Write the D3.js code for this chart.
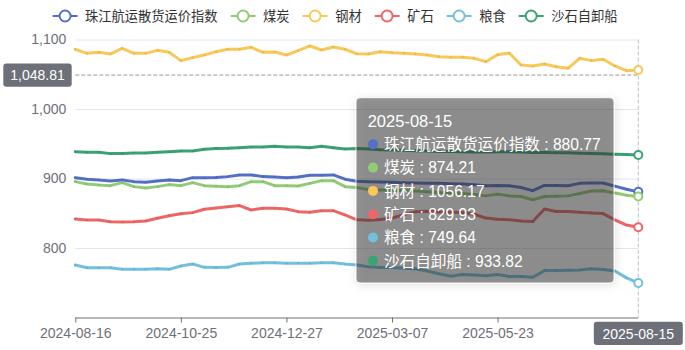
<!DOCTYPE html>
<html><head><meta charset="utf-8">
<script src="https://cdn.jsdelivr.net/npm/d3@7"></script>
<style>
html,body{margin:0;padding:0;background:#fff;}
svg{display:block;font-family:"Liberation Sans","Noto Sans CJK SC",sans-serif;}
</style></head><body>
<svg id="chart" width="685" height="350"></svg>
<script>
const dates = ["2024-08-16","2024-08-23","2024-08-30","2024-09-06","2024-09-13","2024-09-20","2024-09-27","2024-10-11","2024-10-18","2024-10-25",
"2024-11-01","2024-11-08","2024-11-15","2024-11-22","2024-11-29","2024-12-06","2024-12-13","2024-12-20","2024-12-27",
"2025-01-03","2025-01-10","2025-01-17","2025-01-24","2025-02-07","2025-02-14","2025-02-21","2025-02-28","2025-03-07",
"2025-03-14","2025-03-21","2025-03-28","2025-04-11","2025-04-18","2025-04-25","2025-05-09","2025-05-16","2025-05-23",
"2025-05-30","2025-06-06","2025-06-13","2025-06-20","2025-06-27","2025-07-04","2025-07-11","2025-07-18","2025-07-25","2025-08-01","2025-08-08","2025-08-15"];
const seriesNames = ["珠江航运散货运价指数","煤炭","钢材","矿石","粮食","沙石自卸船"];
const indexValues = [901.2,898.8,897.9,896.4,897.9,895.5,894.5,896.4,897.9,896.9,901.2,901.2,901.5,902.7,905.1,905.1,902.7,902.2,901.2,902.2,904.6,904.6,905.1,899.0,896.0,895.5,895.0,894.5,894.0,893.5,893.0,893.0,892.5,892.0,891.0,889.5,890.0,889.5,887.0,882.5,890.0,890.0,889.5,893.0,893.5,893.5,889.0,884.5,880.77];
const coalValues = [895.5,892.1,890.7,889.7,894.0,888.3,886.4,888.3,891.2,889.7,894.0,889.7,889.0,888.3,889.7,895.5,895.5,889.7,889.7,889.2,893.0,896.9,896.9,888.3,887.0,884.0,883.5,883.0,882.5,882.0,881.0,880.0,879.5,878.5,877.0,875.0,877.5,875.0,874.0,869.5,874.0,874.5,875.0,878.5,882.0,882.5,879.0,876.0,874.21];
const steelValues = [1085.9,1080.1,1081.6,1079.2,1087.3,1080.1,1080.1,1084.4,1081.6,1069.6,1073.9,1077.7,1082.5,1085.9,1085.9,1088.7,1081.6,1082.0,1077.7,1084.0,1090.7,1084.9,1089.2,1085.9,1079.5,1079.2,1082.5,1081.1,1080.1,1079.2,1077.7,1075.3,1074.4,1074.4,1072.9,1068.1,1078.0,1080.5,1063.3,1061.9,1064.8,1060.9,1058.5,1072.9,1069.6,1071.5,1061.9,1055.2,1056.17];
const oreValues = [841.8,840.3,840.3,837.9,837.4,837.9,838.9,842.7,846.5,849.4,850.9,855.7,857.5,859.5,861.0,854.7,857.1,857.1,856.2,852.3,851.3,853.7,853.7,847.5,840.5,840.0,841.0,843.0,848.0,852.0,853.0,852.0,851.5,851.0,848.5,843.0,841.5,840.5,839.0,838.0,856.0,852.5,852.5,851.5,850.5,849.5,840.5,833.0,829.93];
const grainValues = [775.6,771.7,771.7,771.7,769.3,769.3,769.3,770.3,769.3,774.1,777.0,772.2,772.0,772.2,777.0,778.0,778.9,778.9,778.0,778.0,778.0,778.9,778.9,777.0,775.5,773.0,772.0,772.0,771.0,770.0,767.0,763.0,759.5,762.0,761.0,760.0,762.0,759.0,759.0,758.0,767.5,767.5,768.0,768.5,770.0,769.0,767.0,757.0,749.64];
const sandValues = [938.6,937.7,937.7,935.8,935.8,936.7,936.7,937.7,938.6,939.6,939.6,942.0,943.0,943.4,944.4,945.3,945.3,946.3,945.3,945.3,944.4,946.3,944.4,942.5,943.0,942.5,941.5,941.0,940.5,940.0,939.5,939.0,939.0,938.5,938.0,938.0,938.5,938.5,938.0,937.5,937.5,937.0,937.0,936.5,936.0,935.5,935.0,934.5,933.82];
const colors = ["#5470c6","#91cc75","#fac858","#ee6666","#73c0de","#3ba272"];
const yTicks = [800,900,1000,1100];
const xLabelIdx = [0,9,18,27,36];
const pointerValue = 1048.81;
const pointerIndex = 48;

const allValues = [indexValues,coalValues,steelValues,oreValues,grainValues,sandValues];
const series = seriesNames.map((n,i)=>({name:n,color:colors[i],values:allValues[i]}));

const svg = d3.select("#chart");
const L=75.3, R=638.3, T=39.5, B=317.5;
const x = d3.scalePoint().domain(dates).range([L,R]);
const y = d3.scaleLinear().domain([700,1100]).range([B,T]);
const axisCol = "#6e7079";

const defs = svg.append("defs");
const f = defs.append("filter").attr("id","shadow").attr("x","-20%").attr("y","-20%").attr("width","140%").attr("height","140%");
f.append("feDropShadow").attr("dx",1).attr("dy",2).attr("stdDeviation",5).attr("flood-color","#000").attr("flood-opacity",0.2);

// grid lines + y labels
const gy = svg.append("g").attr("transform",`translate(${L},0)`)
  .call(d3.axisLeft(y).tickValues(yTicks).tickSize(-(R-L)).tickPadding(9).tickFormat(d3.format(",")));
gy.select(".domain").remove();
gy.selectAll(".tick line").attr("stroke","#e0e6f1");
gy.selectAll(".tick text").attr("fill",axisCol).style("font-size","14px").attr("font-family",null);

// x axis
const gx = svg.append("g").attr("transform",`translate(0,${B})`)
  .call(d3.axisBottom(x).tickValues(xLabelIdx.map(i=>dates[i])).tickSize(5).tickPadding(6));
gx.select(".domain").attr("stroke",axisCol).attr("d",`M${L},0.5H${R}`);
gx.selectAll(".tick line").attr("stroke",axisCol);
gx.selectAll(".tick text").attr("fill",axisCol).style("font-size","14px").attr("font-family",null);

// axis pointer lines
const px = x(dates[pointerIndex]);
svg.append("line").attr("x1",L).attr("x2",R).attr("y1",y(pointerValue)).attr("y2",y(pointerValue))
  .attr("stroke","#999").attr("stroke-dasharray","4,2");
svg.append("line").attr("x1",px).attr("x2",px).attr("y1",T).attr("y2",B)
  .attr("stroke","#b9bec9").attr("stroke-dasharray","4,2");

// series lines
const line = d3.line().x((d,i)=>x(dates[i])).y(d=>y(d));
const sg = svg.append("g");
series.forEach(s=>{
  sg.append("path").attr("d",line(s.values)).attr("fill","none").attr("stroke",s.color)
    .attr("stroke-width",3).attr("stroke-linejoin","round").attr("stroke-linecap","round");
  sg.append("g").selectAll("circle").data(s.values.slice(0,-1)).join("circle")
    .attr("cx",(d,i)=>x(dates[i])).attr("cy",d=>y(d)).attr("r",1.1)
    .attr("fill",d3.color(s.color).darker(0.6)).attr("opacity",0.45);
});
series.forEach(s=>{
  sg.append("circle").attr("cx",px).attr("cy",y(s.values[pointerIndex])).attr("r",4)
    .attr("fill","#fff").attr("stroke",s.color).attr("stroke-width",2);
});

// axis pointer labels
const yl = svg.append("g");
yl.append("rect").attr("x",3.3).attr("y",y(pointerValue)-11.7).attr("width",68.4).attr("height",23.4).attr("rx",3).attr("fill","#6e7079");
yl.append("text").attr("x",37.5).attr("y",y(pointerValue)+5).attr("text-anchor","middle").attr("fill","#fff").style("font-size","14px")
  .text(d3.format(",.2f")(pointerValue));
const xl = svg.append("g");
xl.append("rect").attr("x",px-44.5).attr("y",B+4.2).attr("width",89).attr("height",23.4).attr("rx",3).attr("fill","#6e7079");
xl.append("text").attr("x",px).attr("y",B+21).attr("text-anchor","middle").attr("fill","#fff").style("font-size","14px")
  .text(dates[pointerIndex]);

// legend
const lg = svg.append("g").attr("transform","translate(0,16)");
let cx = 52.6;
series.forEach(s=>{
  const it = lg.append("g").attr("transform",`translate(${cx},0)`);
  it.append("line").attr("x1",0).attr("x2",25).attr("y1",0).attr("y2",0).attr("stroke",s.color).attr("stroke-width",2);
  it.append("circle").attr("cx",12.5).attr("cy",0).attr("r",5.5).attr("fill","#fff").attr("stroke",s.color).attr("stroke-width",2);
  const t = it.append("text").attr("x",32.5).attr("y",4.6).attr("fill","#333").style("font-size","13.25px").text(s.name);
  cx += 32.5 + t.node().getComputedTextLength() + 13;
});

// tooltip
const tt = svg.append("g");
tt.append("rect").attr("x",356).attr("y",97.7).attr("width",258).attr("height",185.3).attr("rx",4)
  .attr("fill","rgba(50,50,50,0.5)").attr("stroke","rgba(255,255,255,0.85)").attr("filter","url(#shadow)");
tt.append("text").attr("x",367.7).attr("y",127).attr("fill","#fff").style("font-size","16.5px").text(dates[pointerIndex]);
series.forEach((s,i)=>{
  const cy = 144.3 + i*23.3;
  tt.append("circle").attr("cx",373).attr("cy",cy).attr("r",5).attr("fill",s.color);
  tt.append("text").attr("x",384).attr("y",cy+5.8).attr("fill","#fff").style("font-size","15.6px")
    .text(s.name + " : " + s.values[pointerIndex].toFixed(2));
});
</script>
</body></html>
